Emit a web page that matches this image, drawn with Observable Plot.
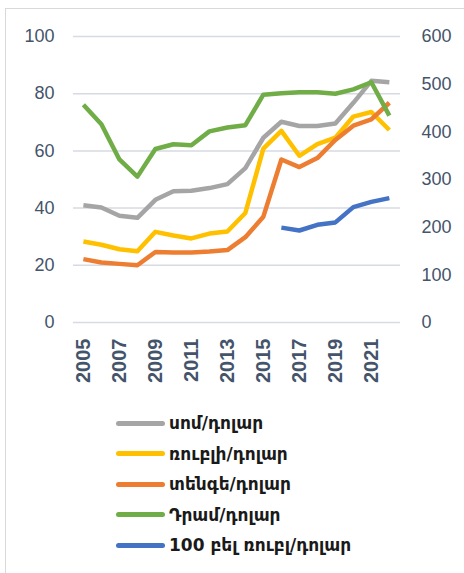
<!DOCTYPE html>
<html>
<head>
<meta charset="utf-8">
<script src="https://cdn.jsdelivr.net/npm/d3@7"></script>
<script src="https://cdn.jsdelivr.net/npm/@observablehq/plot@0.6"></script>
<style>
  html, body { margin: 0; padding: 0; background: #fff; }
  #wrap { position: relative; width: 464px; height: 573px; overflow: hidden; }
  #frame { position: absolute; left: 5px; top: 8px; width: 470px; height: 580px;
           border-left: 1.5px solid #d9d9d9; border-top: 1.5px solid #d9d9d9; }
  #chart { position: absolute; left: 0; top: 0; }
  #legend { position: absolute; left: 116px; top: 408px; font-family: "DejaVu Sans", sans-serif;
            font-weight: bold; font-size: 17px; color: #1a1a1a; }
  .item { display: flex; align-items: center; height: 30.5px; }
  .sw { width: 49px; height: 5px; border-radius: 3px; margin-right: 4px; }
</style>
</head>
<body>
<div id="wrap">
  <div id="frame"></div>
  <div id="chart"></div>
  <div id="legend"></div>
</div>
<script>
const years = [2005,2006,2007,2008,2009,2010,2011,2012,2013,2014,2015,2016,2017,2018,2019,2020,2021,2022];
// left axis series
const som   = [41.0, 40.2, 37.3, 36.6, 42.9, 45.9, 46.1, 47.0, 48.4, 54.0, 64.6, 70.2, 68.7, 68.7, 69.6, 76.8, 84.5, 84.0];
const ruble = [28.3, 27.2, 25.6, 24.9, 31.7, 30.4, 29.4, 31.1, 31.8, 38.3, 60.8, 67.0, 58.3, 62.4, 64.6, 72.0, 73.6, 67.3];
// right axis series
const tenge = [133, 126, 123, 120, 148, 147, 147, 149, 152, 179, 222, 342, 326, 345, 383, 413, 426, 461];
const dram  = [457, 416, 342, 306, 364, 374, 372, 401, 409, 414, 478, 481, 483, 483, 480, 489, 504, 434];
const belYears = [2016,2017,2018,2019,2020,2021,2022];
const belRub = [199, 193, 205, 210, 242, 253, 261];

const leftTicks = [0, 20, 40, 60, 80, 100];
const rightTicks = [0, 100, 200, 300, 400, 500, 600];
const xTicks = [2005,2007,2009,2011,2013,2015,2017,2019,2021];

const names = ["սոմ/դոլար", "ռուբլի/դոլար", "տենգե/դոլար", "Դրամ/դոլար", "100 բել ռուբլ/դոլար"];
const colors = ["#a5a5a5", "#ffc000", "#ed7d31", "#70ad47", "#4472c4"];

const ratio = 6; // right axis max / left axis max
const rows = [];
years.forEach((y, i) => {
  rows.push({year: y, v: som[i], s: names[0]});
  rows.push({year: y, v: ruble[i], s: names[1]});
  rows.push({year: y, v: tenge[i] / ratio, s: names[2]});
  rows.push({year: y, v: dram[i] / ratio, s: names[3]});
});
belYears.forEach((y, i) => rows.push({year: y, v: belRub[i] / ratio, s: names[4]}));

const font = "Liberation Sans, Arial, sans-serif";
const chart = Plot.plot({
  width: 464,
  height: 395,
  marginLeft: 73,
  marginRight: 64,
  marginTop: 36,
  marginBottom: 73,
  style: {fontFamily: font, background: "transparent"},
  x: {domain: [2004.45, 2022.62], axis: null},
  y: {domain: [0, 100], axis: null},
  color: {domain: names, range: colors},
  marks: [
    Plot.gridY(leftTicks, {stroke: "#d6dae2", strokeOpacity: 1, strokeWidth: 1.5}),
    Plot.axisY(leftTicks, {anchor: "left", label: null, tickSize: 0, tickPadding: 19, fontSize: 18, fill: "#44546a"}),
    Plot.axisY(rightTicks.map(t => t / ratio), {anchor: "right", label: null, tickSize: 0, tickPadding: 21, fontSize: 18,
      fill: "#44546a", tickFormat: d => String(Math.round(d * ratio))}),
    Plot.axisX(xTicks, {anchor: "bottom", label: null, tickSize: 0, tickPadding: 16, tickRotate: -90, fontSize: 20,
      fontWeight: "bold", fill: "#44546a", tickFormat: d => String(d)}),
    Plot.line(rows, {x: "year", y: "v", z: "s", stroke: "s", strokeWidth: 4.5,
      strokeLinejoin: "round", strokeLinecap: "butt"})
  ]
});
document.getElementById("chart").appendChild(chart);

const legend = document.getElementById("legend");
names.forEach((n, i) => {
  const it = document.createElement("div");
  it.className = "item";
  const sw = document.createElement("div");
  sw.className = "sw";
  sw.style.background = colors[i];
  const tx = document.createElement("span");
  tx.textContent = n;
  it.appendChild(sw);
  it.appendChild(tx);
  legend.appendChild(it);
});
</script>
</body>
</html>
